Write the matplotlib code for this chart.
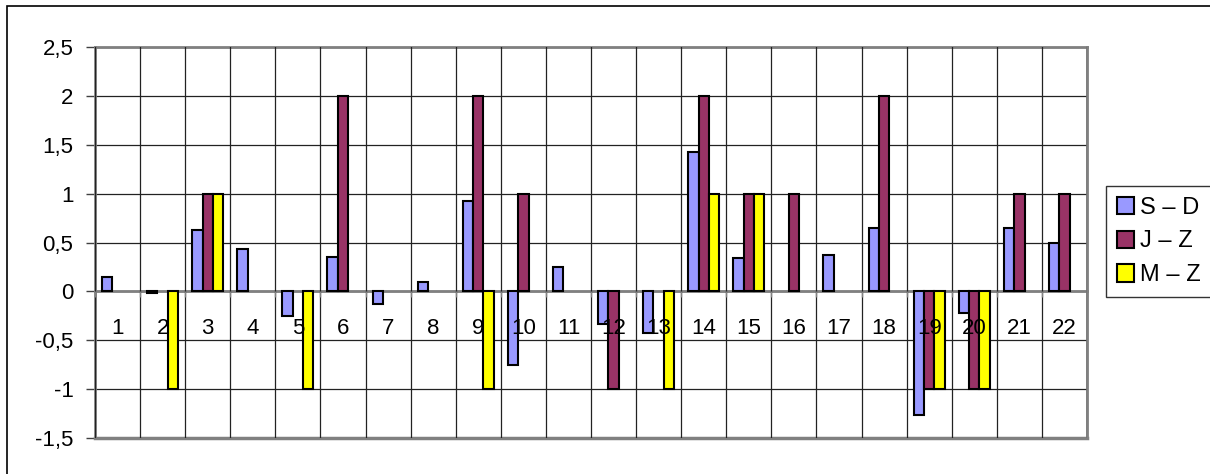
import matplotlib
matplotlib.use("Agg")
import matplotlib.pyplot as plt
from matplotlib.patches import Rectangle
import numpy as np

plt.rcParams['font.family'] = ['Liberation Sans', 'DejaVu Sans']

categories = [str(i) for i in range(1, 23)]
series_names = ["S – D", "J – Z", "M – Z"]
s_d = [0.15, -0.02, 0.63, 0.43, -0.25, 0.35, -0.13, 0.10, 0.93, -0.75, 0.25,
       -0.33, -0.42, 1.43, 0.34, 0.0, 0.37, 0.65, -1.26, -0.22, 0.65, 0.50]
j_z = [0, 0, 1, 0, 0, 2, 0, 0, 2, 1, 0, -1, 0, 2, 1, 1, 0, 2, -1, -1, 1, 1]
m_z = [0, -1, 1, 0, -1, 0, 0, 0, -1, 0, 0, 0, -1, 1, 1, 0, 0, 0, -1, -1, 0, 0]
colors = ["#9999FF", "#993366", "#FFFF00"]
ytick_vals = [-1.5, -1, -0.5, 0, 0.5, 1, 1.5, 2, 2.5]
ytick_labels = ["-1,5", "-1", "-0,5", "0", "0,5", "1", "1,5", "2", "2,5"]

W, H = 1210, 474
fig = plt.figure(figsize=(W / 100, H / 100), dpi=100)
ax = fig.add_axes([95 / W, 1 - 438 / H, (1087 - 95) / W, (438 - 47.3) / H])

x = np.arange(1, len(categories) + 1)
bw = 0.23
for k, (vals, name, c) in enumerate(zip([s_d, j_z, m_z], series_names, colors)):
    vals = np.array(vals, dtype=float)
    mask = vals != 0
    ax.bar(x[mask] + (k - 1) * bw, vals[mask], width=bw, color=c,
           edgecolor="black", linewidth=1.5, zorder=3, label=name)

ax.set_xlim(0.5, len(categories) + 0.5)
ax.set_ylim(-1.5, 2.5)

ax.set_yticks(ytick_vals)
ax.set_yticklabels(ytick_labels)
ax.set_xticks(np.arange(0.5, len(categories) + 1, 1))
ax.set_xticklabels([])
ax.set_xticks(x, minor=True)
ax.set_xticklabels(categories, minor=True)
ax.tick_params(axis='x', which='minor', length=0, pad=19, labelsize=16)
ax.tick_params(axis='x', which='major', length=4, direction='out', width=1, color="#808080")
ax.tick_params(axis='y', length=6.5, width=1, pad=9, color="#404040", labelsize=16)
ax.grid(True, which='major', axis='both', color="#222222", linewidth=0.9, zorder=1)
ax.set_axisbelow(True)
# category labels drawn over the bars (vertical gridlines never cross bars)
ax.xaxis.set_zorder(4)

ax.spines['bottom'].set_position(('data', 0))
ax.spines['bottom'].set_color("#808080")
ax.spines['bottom'].set_linewidth(2)
ax.spines['bottom'].set_zorder(2)
for s in ['left', 'right', 'top']:
    ax.spines[s].set_color("#808080")
    ax.spines[s].set_linewidth(2)
ax.axhline(-1.5, color="#808080", linewidth=2.5, zorder=2, clip_on=False)

leg = fig.legend(loc="upper left",
                 bbox_to_anchor=(1106 / W, 1 - 186 / H, (1216 - 1106) / W, 0.0),
                 mode="expand",
                 fontsize=17, frameon=True, fancybox=False, edgecolor="black",
                 handlelength=0.75, handleheight=0.75, handletextpad=0.25,
                 labelspacing=0.5, borderpad=0.45, borderaxespad=0)
leg.get_frame().set_linewidth(1)

fig.patches.append(Rectangle((7 / W, -0.1), 1.2, 1 - 6 / H + 0.1,
                             transform=fig.transFigure, fill=False,
                             edgecolor="black", linewidth=1.2))

fig.savefig("out.png", dpi=100, facecolor="white")
